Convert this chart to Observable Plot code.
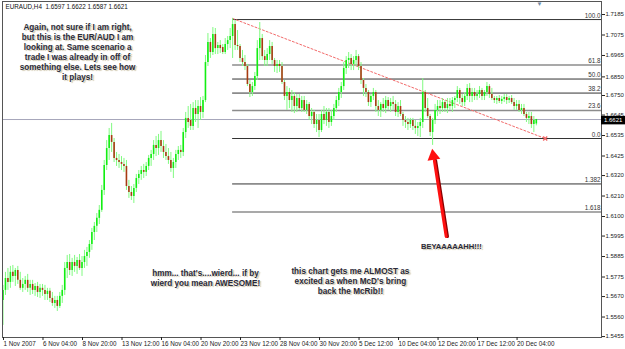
<!DOCTYPE html>
<html><head><meta charset="utf-8">
<script src="https://cdn.jsdelivr.net/npm/d3@7"></script>
<script src="https://cdn.jsdelivr.net/npm/@observablehq/plot@0.6"></script>
<style>html,body{margin:0;padding:0;background:#fff;overflow:hidden}
g[font-weight="bold"] text{text-shadow:1.6px 1.6px 1px #cdc4aa}</style>
</head><body><div id="chart"></div>
<script>
// EURAUD H4 candles (bar index 0..216)
const opens = [1.5649,1.5703,1.5767,1.5746,1.5800,1.5778,1.5810,1.5757,1.5714,1.5735,
 1.5757,1.5714,1.5735,1.5703,1.5724,1.5692,1.5714,1.5703,1.5681,1.5698,
 1.5660,1.5633,1.5649,1.5617,1.5671,1.5703,1.5821,1.5853,1.5810,1.5853,
 1.5832,1.5864,1.5821,1.5853,1.5885,1.5907,1.5950,1.6014,1.6047,1.6090,
 1.6133,1.6240,1.6374,1.6465,1.6535,1.6498,1.6412,1.6401,1.6390,1.6380,
 1.6369,1.6261,1.6229,1.6208,1.6251,1.6304,1.6326,1.6347,1.6337,1.6369,
 1.6412,1.6433,1.6482,1.6465,1.6508,1.6476,1.6444,1.6422,1.6401,1.6358,
 1.6390,1.6433,1.6455,1.6444,1.6551,1.6627,1.6616,1.6584,1.6680,1.6648,
 1.6691,1.6659,1.6723,1.6927,1.7035,1.6981,1.7078,1.7002,1.7019,1.7008,
 1.6981,1.7024,1.7045,1.7067,1.7131,1.7019,1.7013,1.6949,1.6927,1.6906,
 1.6809,1.6766,1.6798,1.6852,1.7002,1.7056,1.6959,1.6938,1.6970,1.7013,
 1.6938,1.6906,1.6917,1.6906,1.6820,1.6745,1.6766,1.6723,1.6745,1.6691,
 1.6734,1.6680,1.6723,1.6670,1.6702,1.6637,1.6659,1.6594,1.6616,1.6562,
 1.6648,1.6616,1.6659,1.6605,1.6637,1.6680,1.6723,1.6766,1.6798,1.6895,
 1.6938,1.6949,1.6917,1.6938,1.6959,1.6906,1.6831,1.6788,1.6766,1.6712,
 1.6745,1.6766,1.6691,1.6670,1.6702,1.6680,1.6723,1.6691,1.6712,1.6702,
 1.6659,1.6691,1.6648,1.6616,1.6605,1.6594,1.6616,1.6584,1.6573,1.6584,
 1.6605,1.6766,1.6680,1.6637,1.6551,1.6616,1.6670,1.6691,1.6680,1.6712,
 1.6680,1.6702,1.6691,1.6723,1.6734,1.6777,1.6734,1.6712,1.6745,1.6788,
 1.6745,1.6766,1.6745,1.6755,1.6777,1.6745,1.6766,1.6798,1.6755,1.6734,
 1.6723,1.6734,1.6718,1.6729,1.6739,1.6723,1.6734,1.6712,1.6691,1.6702,
 1.6670,1.6680,1.6648,1.6627,1.6637,1.6594,1.6597];
const highs = [1.5730,1.5800,1.5821,1.5832,1.5837,1.5821,1.5832,1.5800,1.5767,1.5778,
 1.5789,1.5757,1.5757,1.5740,1.5746,1.5735,1.5735,1.5730,1.5714,1.5714,
 1.5692,1.5671,1.5671,1.5692,1.5730,1.5853,1.5891,1.5896,1.5875,1.5891,
 1.5880,1.5896,1.5885,1.5918,1.5934,1.5971,1.6036,1.6068,1.6116,1.6159,
 1.6267,1.6401,1.6508,1.6573,1.6600,1.6519,1.6444,1.6433,1.6422,1.6412,
 1.6401,1.6294,1.6261,1.6272,1.6326,1.6347,1.6369,1.6380,1.6390,1.6428,
 1.6455,1.6508,1.6530,1.6541,1.6557,1.6508,1.6487,1.6465,1.6444,1.6412,
 1.6455,1.6476,1.6482,1.6573,1.6659,1.6691,1.6702,1.6712,1.6723,1.6723,
 1.6739,1.6745,1.6965,1.7083,1.7056,1.7115,1.7110,1.7035,1.7045,1.7024,
 1.7056,1.7067,1.7110,1.7164,1.7153,1.7099,1.7024,1.6992,1.6965,1.6917,
 1.6831,1.6820,1.6874,1.7045,1.7142,1.7078,1.6992,1.7002,1.7045,1.7035,
 1.6949,1.6938,1.6938,1.6927,1.6831,1.6798,1.6788,1.6777,1.6766,1.6755,
 1.6755,1.6745,1.6745,1.6723,1.6712,1.6680,1.6670,1.6648,1.6648,1.6670,
 1.6691,1.6680,1.6680,1.6670,1.6702,1.6745,1.6788,1.6820,1.6927,1.6959,
 1.6981,1.6970,1.6959,1.6992,1.6970,1.6927,1.6841,1.6809,1.6777,1.6755,
 1.6788,1.6777,1.6723,1.6712,1.6734,1.6745,1.6739,1.6734,1.6745,1.6723,
 1.6712,1.6723,1.6659,1.6637,1.6627,1.6627,1.6627,1.6616,1.6605,1.6627,
 1.6841,1.6777,1.6734,1.6648,1.6627,1.6702,1.6723,1.6723,1.6734,1.6723,
 1.6734,1.6734,1.6739,1.6745,1.6798,1.6788,1.6755,1.6766,1.6809,1.6814,
 1.6788,1.6788,1.6777,1.6798,1.6788,1.6777,1.6820,1.6809,1.6788,1.6745,
 1.6745,1.6750,1.6745,1.6755,1.6755,1.6745,1.6750,1.6734,1.6723,1.6723,
 1.6702,1.6702,1.6659,1.6659,1.6659,1.6637,1.6622];
const lows = [1.5515,1.5676,1.5703,1.5714,1.5746,1.5724,1.5735,1.5703,1.5692,1.5703,
 1.5692,1.5676,1.5681,1.5671,1.5665,1.5660,1.5671,1.5649,1.5649,1.5638,
 1.5617,1.5606,1.5590,1.5606,1.5633,1.5676,1.5767,1.5783,1.5778,1.5800,
 1.5789,1.5810,1.5778,1.5821,1.5832,1.5875,1.5918,1.5971,1.6014,1.6057,
 1.6122,1.6213,1.6347,1.6401,1.6444,1.6390,1.6369,1.6358,1.6347,1.6337,
 1.6240,1.6197,1.6186,1.6170,1.6229,1.6272,1.6294,1.6304,1.6315,1.6347,
 1.6369,1.6401,1.6422,1.6428,1.6444,1.6412,1.6401,1.6380,1.6337,1.6304,
 1.6358,1.6401,1.6412,1.6422,1.6519,1.6573,1.6562,1.6562,1.6605,1.6573,
 1.6616,1.6627,1.6712,1.6906,1.6949,1.6965,1.6970,1.6970,1.6976,1.6970,
 1.6970,1.6992,1.7002,1.6949,1.6992,1.6992,1.6927,1.6906,1.6884,1.6798,
 1.6739,1.6745,1.6777,1.6831,1.6938,1.6938,1.6906,1.6906,1.6938,1.6917,
 1.6874,1.6868,1.6874,1.6809,1.6723,1.6670,1.6680,1.6659,1.6653,1.6659,
 1.6670,1.6659,1.6659,1.6648,1.6616,1.6594,1.6573,1.6551,1.6524,1.6551,
 1.6594,1.6584,1.6573,1.6584,1.6616,1.6659,1.6691,1.6734,1.6777,1.6863,
 1.6895,1.6884,1.6884,1.6906,1.6884,1.6809,1.6745,1.6739,1.6691,1.6686,
 1.6723,1.6659,1.6637,1.6632,1.6659,1.6653,1.6670,1.6659,1.6670,1.6637,
 1.6632,1.6637,1.6584,1.6573,1.6562,1.6573,1.6562,1.6541,1.6530,1.6524,
 1.6573,1.6659,1.6627,1.6530,1.6482,1.6594,1.6637,1.6648,1.6659,1.6659,
 1.6653,1.6670,1.6659,1.6680,1.6712,1.6702,1.6691,1.6691,1.6723,1.6712,
 1.6712,1.6723,1.6723,1.6734,1.6723,1.6723,1.6745,1.6734,1.6723,1.6707,
 1.6702,1.6707,1.6702,1.6712,1.6702,1.6707,1.6702,1.6670,1.6670,1.6659,
 1.6648,1.6637,1.6605,1.6594,1.6573,1.6551,1.6587];
const closes = [1.5703,1.5767,1.5746,1.5800,1.5778,1.5810,1.5757,1.5714,1.5735,1.5757,
 1.5714,1.5735,1.5703,1.5724,1.5692,1.5714,1.5703,1.5681,1.5698,1.5660,
 1.5633,1.5649,1.5617,1.5671,1.5703,1.5821,1.5853,1.5810,1.5853,1.5832,
 1.5864,1.5821,1.5853,1.5885,1.5907,1.5950,1.6014,1.6047,1.6090,1.6133,
 1.6240,1.6374,1.6465,1.6535,1.6498,1.6412,1.6401,1.6390,1.6380,1.6369,
 1.6261,1.6229,1.6208,1.6251,1.6304,1.6326,1.6347,1.6337,1.6369,1.6412,
 1.6433,1.6482,1.6465,1.6508,1.6476,1.6444,1.6422,1.6401,1.6358,1.6390,
 1.6433,1.6455,1.6444,1.6551,1.6627,1.6605,1.6584,1.6680,1.6648,1.6691,
 1.6659,1.6723,1.6927,1.7035,1.6981,1.7078,1.7002,1.7019,1.7002,1.6981,
 1.7024,1.7045,1.7067,1.7131,1.7019,1.7013,1.6949,1.6927,1.6906,1.6809,
 1.6766,1.6798,1.6852,1.7002,1.7056,1.6959,1.6938,1.6970,1.7013,1.6938,
 1.6906,1.6917,1.6906,1.6820,1.6745,1.6766,1.6723,1.6745,1.6691,1.6734,
 1.6680,1.6723,1.6670,1.6702,1.6637,1.6659,1.6594,1.6616,1.6562,1.6648,
 1.6616,1.6659,1.6605,1.6637,1.6680,1.6723,1.6766,1.6798,1.6895,1.6938,
 1.6949,1.6917,1.6938,1.6959,1.6906,1.6831,1.6788,1.6766,1.6712,1.6745,
 1.6766,1.6691,1.6670,1.6702,1.6680,1.6723,1.6691,1.6712,1.6702,1.6659,
 1.6691,1.6648,1.6616,1.6605,1.6594,1.6616,1.6584,1.6573,1.6584,1.6605,
 1.6766,1.6680,1.6637,1.6551,1.6616,1.6670,1.6691,1.6680,1.6712,1.6680,
 1.6702,1.6691,1.6723,1.6734,1.6777,1.6734,1.6712,1.6745,1.6788,1.6745,
 1.6766,1.6745,1.6755,1.6777,1.6745,1.6766,1.6798,1.6755,1.6734,1.6723,
 1.6734,1.6718,1.6729,1.6739,1.6723,1.6734,1.6712,1.6691,1.6702,1.6670,
 1.6680,1.6648,1.6627,1.6637,1.6594,1.6616,1.6621];

const xTickIndex = [0,16,32,48,64,80,96,112,128,144,160,176,192,208];
const xTickLabels = ["1 Nov 2007","6 Nov 04:00","8 Nov 20:00","13 Nov 12:00","16 Nov 04:00","20 Nov 20:00","23 Nov 12:00","28 Nov 04:00","30 Nov 20:00","5 Dec 12:00","10 Dec 04:00","12 Dec 20:00","17 Dec 12:00","20 Dec 04:00"];
const yTickValues = [1.7185,1.7075,1.6965,1.6850,1.6750,1.6645,1.6535,1.6425,1.6320,1.6210,1.6100,1.5995,1.5885,1.5775,1.5670,1.5560,1.5455];

const fibHigh = 1.7158, fibLow = 1.6519, fibStartIndex = 93;
const fibFactors = [0, 0.382, 0.5, 0.618, 0.764, 1, 1.382, 1.618];   // measured down from the high
const fibLabels = ["100.0","61.8","50.0","38.2","23.6","0.0","1.382","1.618"];
const fibLight = [false, true, false, false, true, false, false, true];

const trendIndex = [93, 219.6];
const trendPrice = [1.7164, 1.6519];
const currentPrice = 1.6621;
const header = "EURAUD,H4  1.6597 1.6622 1.6587 1.6621";

const arrowIndex = [179.5, 174.7];
const arrowPrice = [1.5993, 1.6401];
const arrowHead = {i: 174.3, p: 1.6425};

const noteTexts = [
 "Again, not sure if I am right,\nbut this is the EUR/AUD I am\nlooking at. Same scenario a\ntrade I was already in off of\nsomething else. Lets see how\nit plays!",
 "hmm... that's....wierd... if by\nwierd you mean AWESOME!",
 "this chart gets me ALMOST as\nexcited as when McD's bring\nback the McRib!!",
 "BEYAAAAAHH!!!"
];
const noteIndex = [30.2, 82.0, 140.7, 181.6];
const notePrice = [1.6986, 1.5773, 1.5757, 1.5944];
const noteSize = [8.2, 8.2, 8.2, 7.6];

// ---- build
const xDom = [-0.2, 242.4];
const bars = opens.map((o, i) => ({i, o, h: highs[i], l: lows[i], c: closes[i]}));
const up = bars.filter(d => d.c >= d.o);
const down = bars.filter(d => d.c < d.o);
const fib = fibFactors.map((f, k) => ({v: fibHigh - f * (fibHigh - fibLow), label: fibLabels[k], light: fibLight[k]}));
const trend = trendIndex.map((x, k) => ({x, y: trendPrice[k]}));
const arrow = arrowIndex.map((x, k) => ({x, y: arrowPrice[k]}));
const notes = noteTexts.map((t, k) => ({t, x: noteIndex[k], y: notePrice[k], s: noteSize[k]}));

const noteMarks = notes.map(n =>
  Plot.text([n], {x: "x", y: "y", text: "t", fontSize: n.s, fontWeight: "bold", lineHeight: 1.22, fill: "#2b2b3a"}));

const chart = Plot.plot({
  width: 625, height: 349,
  marginLeft: 2, marginRight: 24, marginTop: 1, marginBottom: 12,
  style: {fontFamily: "'Liberation Sans', Arial, sans-serif", background: "#fff", color: "#222"},
  x: {domain: xDom, axis: null},
  y: {domain: [1.5450, 1.7255], axis: null},
  marks: [
    Plot.ruleY([currentPrice], {stroke: "#a6a6ba", strokeWidth: 1}),
    Plot.ruleY(fib.filter(d => d.light), {y: "v", x1: fibStartIndex, x2: xDom[1], stroke: "#8c8c8c", strokeWidth: 1.6}),
    Plot.ruleY(fib.filter(d => !d.light), {y: "v", x1: fibStartIndex, x2: xDom[1], stroke: "#333", strokeWidth: 1}),
    Plot.text(fib, {y: "v", x: xDom[1], text: "label", textAnchor: "end", dx: -1, dy: -4, fontSize: 6.3, fill: "#333"}),
    Plot.line(trend, {x: "x", y: "y", stroke: "#f26a6a", strokeWidth: 1, strokeDasharray: "2,2"}),
    Plot.dot([trend[1]], {x: "x", y: "y", symbol: "times", r: 2, stroke: "#f26a6a"}),
    Plot.ruleX(bars, {x: "i", y1: "l", y2: "h", stroke: "#80fa80", strokeWidth: 1}),
    Plot.ruleX(up, {x: "i", y1: "o", y2: "c", stroke: "#12ee12", strokeWidth: 1.6}),
    Plot.ruleX(down, {x: "i", y1: "o", y2: "c", stroke: "#a83a12", strokeWidth: 1.6}),
    Plot.line(arrow, {x: "x", y: "y", stroke: "#8a0000", strokeWidth: 3, dx: 1.3}),
    Plot.line(arrow, {x: "x", y: "y", stroke: "#ff1010", strokeWidth: 3}),
    Plot.dot([arrowHead], {x: "i", y: "p", symbol: "triangle", r: 4.8, fill: "#ff1010", rotate: -9}),
    ...noteMarks,
    Plot.text([header], {frameAnchor: "top-left", dx: 3, dy: 3, fontSize: 6.3, textAnchor: "start", fill: "#111"}),
    Plot.text(["\u25BC"], {x: 217.3, frameAnchor: "top", dy: 0, fontSize: 6, fill: "#6f8aa8"}),
    Plot.frame({stroke: "#555"}),
    Plot.axisY(yTickValues, {anchor: "right", tickSize: 3, tickPadding: 1, tickFormat: d => d.toFixed(4), fontSize: 6, label: null}),
    Plot.axisX(xTickIndex, {anchor: "bottom", tickSize: 3, tickPadding: 1, textAnchor: "start", dx: 0.5, fontSize: 6.3, label: null,
      tickFormat: d => xTickLabels[xTickIndex.indexOf(d)]}),
    Plot.ruleY([currentPrice], {x1: xDom[1], x2: xDom[1] + 9.8, stroke: "#000", strokeWidth: 8.5, dy: 0.6}),
    Plot.text([currentPrice], {y: d => d, x: xDom[1], text: d => d.toFixed(4), textAnchor: "start", dx: 2.5, dy: 0.9, fontSize: 6, fill: "#fff"})
  ]
});
document.getElementById("chart").appendChild(chart);
</script>
</body></html>
